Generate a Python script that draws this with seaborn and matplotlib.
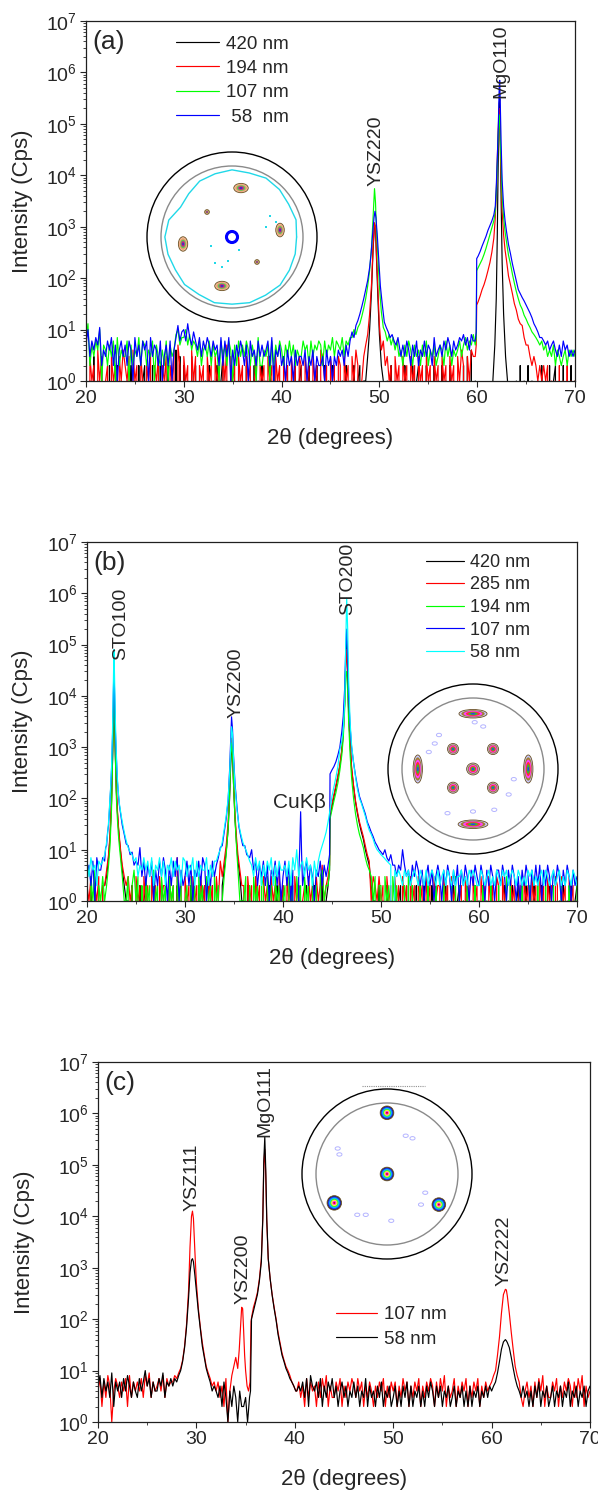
import numpy as np
import pandas as pd
import matplotlib
matplotlib.use("Agg")
import matplotlib.pyplot as plt
from matplotlib.patches import Circle, Ellipse
from matplotlib.ticker import MultipleLocator, LogLocator, NullFormatter
import seaborn as sns

sns.set_style("ticks")
plt.rcParams['font.family'] = ['Liberation Sans', 'DejaVu Sans']
plt.rcParams['mathtext.fontset'] = 'custom'
plt.rcParams['mathtext.rm'] = 'Liberation Sans'
plt.rcParams['mathtext.default'] = 'regular'

# background scans: one hex digit = counts at 2theta = 20.0 + 0.2*i
scan_start = 20.0
scan_step = 0.2

# ---------------- panel (a) ----------------
a420_bg = ("2010301020 1020102010 0102010201 2010201020 1020104030 2010302010 0102010201 "
           "3010201020 1020102010 2010302010 0102010201 2010201020 1020102010 0102010201 "
           "2010201020 1020102010 0102010201 2010201020 1020102010 0102030401 0000000000 "
           "0000000000 1020102010 0102010201 2010201020 1")
a194_bg = ("2031204130 1203120314 2130412031 0213021302 1302140520 3120413021 2031203120 "
           "4150312031 2031201302 1203120312 0312031203 2031203120 4312031203 2031203142 "
           "0000000000 0000002031 2031203120 3120312031 2031203120 3142031430 0000000000 "
           "0000000000 0000000000 0000002010 1020102010 1")
a107_bg = ("6d25364a15 4253617243 3615243726 5243615324 2615348a57 7a58465362 4536253416 "
           "3526415263 5364253172 2435162536 4253635243 3645263546 5263547365 4736570000 "
           "0000000000 0000000000 3425364253 4253624352 3542635243 4635746580 0000000000 "
           "0000000000 0000000000 0000000035 2432342434 3")
a58_bg = ("5a36475b24 3647251463 5264173526 4617354261 3526147c69 a6d7596473 6475364527 "
          "2637142536 4251634263 5346271435 2314231423 3241324132 2314231324 3425364758 "
          "0000000000 0000000000 4353642536 2436354273 4536475364 5768574869 0000000000 "
          "0000000000 0000000000 0000000046 4353645343 4")

a420_ysz220_x = [48.6, 48.8, 49.0, 49.2, 49.35, 49.5, 49.6, 49.7, 49.85, 50.0, 50.2, 50.4, 50.6]
a420_ysz220_y = [1, 3, 10, 60, 350, 1100, 1000, 250, 40, 8, 2, 1, 0]
a420_mgo110_x = [61.4, 61.6, 61.8, 61.95, 62.05, 62.15, 62.25, 62.3, 62.35, 62.45, 62.55, 62.7, 62.9, 63.1, 63.4]
a420_mgo110_y = [0, 1, 5, 40, 600, 20000, 250000, 300000, 60000, 3000, 200, 20, 3, 1, 0]

a194_ysz220_x = [48.2, 48.4, 48.6, 48.8, 49.0, 49.2, 49.35, 49.5, 49.6, 49.7, 49.85, 50.0, 50.2, 50.4, 50.6, 50.8, 51.0]
a194_ysz220_y = [1, 3, 5, 8, 20, 80, 400, 1200, 1000, 300, 60, 12, 4, 6, 2, 3, 1]
a194_mgo110_x = [59.8, 59.9, 59.95, 60.1, 60.3, 60.5, 60.7, 60.9, 61.1, 61.3, 61.5, 61.7, 61.85, 61.95,
                 62.05, 62.15, 62.25, 62.3, 62.35, 62.45, 62.55, 62.7, 62.85, 63.0, 63.2, 63.4, 63.6,
                 63.8, 64.0, 64.2, 64.4, 64.6, 64.8, 65.0, 65.2, 65.4, 65.6, 65.8, 66.0, 66.2, 66.4,
                 66.6, 66.8, 67.0]
a194_mgo110_y = [3, 5, 30, 35, 45, 60, 75, 100, 140, 200, 320, 600, 1500, 4500,
                 20000, 80000, 200000, 150000, 50000, 8000, 2000, 700, 350, 220, 110, 75, 50,
                 32, 24, 16, 13, 12, 7, 5, 5, 3, 2, 3, 2, 1, 2,
                 1, 2, 1]

a107_ysz220_x = [47.2, 47.4, 47.6, 47.8, 48.0, 48.2, 48.4, 48.6, 48.8, 49.0, 49.2, 49.35, 49.5, 49.6,
                 49.7, 49.85, 50.0, 50.2, 50.4, 50.6, 50.8, 51.0, 51.2, 51.4, 51.6, 51.8, 52.0]
a107_ysz220_y = [7, 10, 8, 11, 13, 18, 26, 40, 70, 140, 400, 1500, 5500, 3000,
                 900, 250, 70, 22, 11, 9, 6, 8, 5, 7, 4, 6, 3]
a107_mgo110_x = [59.8, 59.9, 59.95, 60.1, 60.3, 60.5, 60.7, 60.9, 61.1, 61.3, 61.5, 61.7, 61.85, 61.95,
                 62.05, 62.15, 62.25, 62.3, 62.35, 62.45, 62.55, 62.7, 62.85, 63.0, 63.2, 63.4, 63.6,
                 63.8, 64.0, 64.2, 64.4, 64.6, 64.8, 65.0, 65.2, 65.4, 65.6, 65.8, 66.0, 66.2, 66.4,
                 66.6, 66.8, 67.0, 67.2, 67.4]
a107_mgo110_y = [5, 7, 140, 160, 190, 230, 290, 380, 520, 700, 950, 1300, 2000, 4500,
                 15000, 60000, 150000, 120000, 60000, 15000, 4000, 1500, 800, 500, 280, 190, 120,
                 80, 55, 40, 30, 25, 19, 16, 13, 11, 9, 8, 7, 6, 5,
                 6, 4, 5, 3, 4]

a58_ysz220_x = [47.0, 47.2, 47.4, 47.6, 47.8, 48.0, 48.2, 48.4, 48.6, 48.8, 49.0, 49.15, 49.3, 49.45,
                49.55, 49.65, 49.8, 49.95, 50.1, 50.3, 50.5, 50.7, 50.9, 51.1, 51.3, 51.5, 51.7, 51.9, 52.1]
a58_ysz220_y = [6, 9, 7, 12, 15, 20, 28, 40, 60, 90, 160, 300, 700, 1500,
                2000, 1500, 600, 200, 70, 30, 14, 11, 9, 7, 8, 6, 5, 7, 4]
a58_mgo110_x = [59.8, 59.9, 59.95, 60.1, 60.3, 60.5, 60.7, 60.9, 61.1, 61.3, 61.5, 61.7, 61.85, 61.95,
                62.05, 62.15, 62.25, 62.3, 62.35, 62.45, 62.55, 62.7, 62.85, 63.0, 63.2, 63.4, 63.6,
                63.8, 64.0, 64.2, 64.4, 64.6, 64.8, 65.0, 65.2, 65.4, 65.6, 65.8, 66.0, 66.2, 66.4,
                66.6, 66.8, 67.0, 67.2, 67.4, 67.6]
a58_mgo110_y = [6, 9, 240, 270, 330, 420, 520, 650, 850, 1050, 1300, 1700, 2500, 6000,
                20000, 80000, 500000, 700000, 300000, 40000, 8000, 2500, 1300, 800, 450, 300, 190,
                130, 90, 60, 50, 42, 36, 30, 25, 21, 17, 13, 11, 9, 7,
                7, 6, 5, 6, 4, 5]

# ---------------- panel (b) ----------------
b420_bg = ("1020301020 0000000000 0102010201 2010201020 1020102010 0102010201 2010201000 "
           "0000000000 1020102010 0102010201 2010201020 1020102010 3010200000 0000000000 "
           "0000000102 0102010201 2010201020 1020102010 0102010201 2010201020 1020102010 "
           "0102010201 2010201020 1020102010 0102010201 2")
b285_bg = ("2130213021 0000000000 0312031203 1203120312 2031207130 3120312031 2031203160 "
           "0000000000 2031203120 3120312031 2031203120 1203120312 5120300000 0000000000 "
           "0000000213 1203120312 0312031203 1203120312 2031203120 1203120312 0312031203 "
           "2031203120 1203120312 0312031203 2031203120 1")
b194_bg = ("2031402130 0000000000 1302413020 3120412031 2031203120 1203120312 0312031203 "
           "0000000002 1302031203 2031203120 1203120312 0312031203 4120300000 0000000000 "
           "0000000302 2031203120 1020302010 2010201020 1020102030 2010201020 1020102010 "
           "2010302010 1020102010 2010201020 1020102010 2")
b107_bg = ("3526174253 0000000000 0000005b36 2536142637 4152637142 3625143627 5142637100 "
           "0000000000 0000a46253 6251436251 3625140000 0462531436 2536000000 0000000000 "
           "0000000000 0000000535 4a53425364 2413524135 3142531425 1425314253 2531425314 "
           "4253142531 3142531425 2514253142 5314253142 3")
b58_bg = ("6374526374 0000000000 0000063547 4637254736 2547364527 6354726354 4725364700 "
          "0000000000 0000537462 5364725364 4536274a35 6374526300 0000000000 0000000000 "
          "0000000000 0000000434 3243423432 4324234324 2342432423 3423243432 2432342324 "
          "3243423432 4323243423 2342432342 3423243243 2")

b_sto100_x = [21.4, 21.6, 21.8, 21.9, 22.0, 22.1, 22.2, 22.3, 22.4, 22.5, 22.6, 22.7, 22.75, 22.8,
              22.9, 23.0, 23.1, 23.2, 23.3, 23.4, 23.5, 23.6, 23.8, 24.0, 24.2, 24.4, 24.6, 24.8, 25.0]
b58_sto100_y = [5, 6, 8, 10, 14, 20, 35, 70, 150, 400, 2000, 20000, 80000, 30000,
                3000, 700, 250, 130, 80, 60, 45, 35, 22, 15, 11, 9, 8, 6, 7]
b107_sto100_y = [4, 7, 6, 11, 12, 22, 30, 65, 140, 350, 1500, 12000, 40000, 15000,
                 2000, 600, 220, 120, 75, 55, 40, 30, 20, 13, 12, 8, 9, 5, 6]
b_sto100n_x = [21.8, 22.0, 22.2, 22.35, 22.5, 22.6, 22.7, 22.75, 22.8, 22.9, 23.0, 23.1, 23.2, 23.3,
               23.45, 23.6, 23.8, 24.0]
b420_sto100_y = [2, 3, 7, 18, 80, 500, 4000, 6000, 4000, 600, 130, 55, 28, 16, 8, 4, 2, 1]
b285_sto100_y = [2, 4, 8, 20, 90, 600, 5000, 9000, 5000, 700, 150, 60, 30, 18, 9, 5, 3, 2]
b194_sto100_y = [1, 2, 5, 12, 60, 500, 5000, 12000, 6000, 600, 100, 40, 20, 12, 6, 3, 1, 1]

b_ysz200_x = [33.2, 33.4, 33.6, 33.8, 34.0, 34.2, 34.4, 34.55, 34.65, 34.75, 34.85, 34.95, 35.1, 35.3,
              35.5, 35.7, 35.9, 36.1, 36.3, 36.6]
b58_ysz200_y = [6, 8, 10, 14, 25, 45, 100, 300, 900, 2500, 1800, 600, 180, 60, 30, 20, 14, 11, 9, 6]
b107_ysz200_y = [5, 7, 11, 12, 22, 40, 90, 350, 1200, 3900, 2200, 700, 200, 70, 28, 18, 12, 12, 8, 7]
b_ysz200n_x = [33.8, 34.0, 34.2, 34.4, 34.55, 34.65, 34.75, 34.85, 34.95, 35.1, 35.25, 35.4, 35.6, 35.8]
b420_ysz200_y = [2, 4, 9, 25, 100, 400, 1000, 700, 200, 40, 14, 6, 3, 1]
b285_ysz200_y = [3, 6, 12, 35, 150, 600, 1500, 900, 250, 50, 18, 8, 4, 2]
b194_ysz200_y = [1, 3, 8, 25, 120, 500, 1200, 800, 200, 40, 12, 4, 1, 1]

b107_cukb_x = [41.6, 41.7, 41.8, 41.9, 42.0]
b107_cukb_y = [3, 10, 55, 8, 2]

b58_sto200_x = [43.6, 43.8, 44.0, 44.2, 44.4, 44.6, 44.8, 45.0, 45.2, 45.4, 45.6, 45.8, 46.0, 46.15,
                46.3, 46.4, 46.5, 46.6, 46.7, 46.85, 47.0, 47.2, 47.4, 47.6, 47.8, 48.0, 48.2, 48.4,
                48.6, 48.8, 49.0, 49.2, 49.4, 49.6, 49.8, 50.0, 50.3, 50.6, 51.0]
b58_sto200_y = [6, 9, 12, 16, 22, 35, 60, 110, 170, 260, 420, 900, 1300, 2200,
                8000, 100000, 800000, 200000, 20000, 3000, 1100, 500, 260, 150, 100, 80, 60, 45,
                32, 24, 20, 16, 12, 10, 9, 8, 7, 6, 5]
b107_sto200_x = [44.6, 44.75, 44.8, 45.0, 45.2, 45.4, 45.6, 45.8, 46.0, 46.15, 46.3, 46.4, 46.5, 46.6,
                 46.7, 46.85, 47.0, 47.2, 47.4, 47.6, 47.8, 48.0, 48.2, 48.4, 48.6, 48.8, 49.0, 49.2,
                 49.4, 49.6, 49.8, 50.0, 50.2, 50.4, 50.6, 50.8, 51.0, 51.2]
b107_sto200_y = [5, 8, 300, 360, 420, 520, 700, 1000, 2000, 4000, 15000, 80000, 200000, 60000,
                 10000, 2500, 1000, 500, 280, 170, 110, 85, 65, 50, 35, 28, 22, 18,
                 14, 12, 10, 9, 8, 10, 7, 6, 8, 5]
b_sto200n_x = [44.6, 44.75, 44.8, 45.0, 45.2, 45.4, 45.6, 45.8, 46.0, 46.15, 46.3, 46.4, 46.5, 46.6,
               46.7, 46.85, 47.0, 47.2, 47.4, 47.6, 47.8, 48.0, 48.2, 48.4, 48.6, 48.8, 49.0, 49.2]
b420_sto200_y = [2, 4, 45, 70, 110, 170, 260, 430, 850, 1900, 8000, 50000, 120000, 30000,
                 5000, 1100, 380, 170, 85, 50, 32, 22, 16, 10, 7, 5, 2, 1]
b285_sto200_y = [3, 5, 50, 80, 120, 180, 280, 450, 900, 2000, 8000, 40000, 80000, 25000,
                 5000, 1200, 400, 180, 90, 55, 35, 25, 18, 12, 8, 6, 1, 3]
b194_sto200_y = [2, 4, 40, 60, 90, 130, 200, 350, 700, 1500, 6000, 25000, 30000, 12000,
                 3000, 700, 250, 100, 50, 30, 20, 15, 11, 7, 5, 4, 3, 1]

# ---------------- panel (c) ----------------
c107_bg = ("4726385147 5364728364 6473859364 5748375600 0000000000 0000000000 4635271400 "
           "0000000000 0000000000 0000000000 0463527364 5263748253 3647253647 5374625364 "
           "2536472536 4625374625 3647253647 5263748253 4725364725 3647253640 0000000000 "
           "0000000463 5263748253 3647253647 5263748253 4")
c58_bg = ("5837463926 4637485364 3746a57364 4759365700 0000000000 0000000000 4352631425 "
          "3142231100 0000000000 0000000000 0454637285 4637253647 3524635243 6352437253 "
          "4253624352 3524253625 2435242536 4253524352 3524352425 2435243535 0000000000 "
          "0000005342 4253624352 3524352436 2435243524 5")

c_ysz111_x = [27.6, 27.8, 28.0, 28.2, 28.4, 28.6, 28.8, 29.0, 29.2, 29.35, 29.5, 29.6, 29.7, 29.85,
              30.0, 30.2, 30.4, 30.6, 30.8, 31.0, 31.2, 31.4, 31.6, 31.8]
c107_ysz111_y = [6, 8, 7, 9, 11, 16, 30, 80, 350, 2500, 10000, 12600, 9000, 2000,
                 500, 160, 70, 35, 20, 12, 9, 7, 5, 6]
c58_ysz111_y = [5, 7, 6, 8, 10, 15, 28, 70, 250, 800, 1400, 1500, 1300, 700,
                350, 140, 65, 30, 18, 11, 8, 6, 4, 5]

c107_mgo111_x = [33.6, 33.8, 34.0, 34.2, 34.35, 34.5, 34.6, 34.7, 34.8, 34.9, 35.0, 35.15, 35.3, 35.45,
                 35.55, 35.65, 35.8, 36.0, 36.2, 36.4, 36.6, 36.75, 36.85, 36.95, 37.05, 37.15, 37.3,
                 37.5, 37.7, 37.9, 38.1, 38.3, 38.5, 38.7, 38.9, 39.1, 39.3, 39.5, 39.7, 39.9, 40.1]
c107_mgo111_y = [8, 12, 18, 11, 25, 80, 170, 160, 60, 20, 10, 5, 4, 6,
                 90, 120, 170, 230, 330, 600, 1500, 10000, 100000, 200000, 60000, 8000, 1500,
                 600, 300, 170, 100, 55, 35, 22, 16, 12, 10, 8, 6, 5, 4]
c58_mgo111_x = [35.4, 35.5, 35.6, 35.7, 35.85, 36.0, 36.2, 36.4, 36.6, 36.75, 36.85, 36.95, 37.05,
                37.15, 37.3, 37.5, 37.7, 37.9, 38.1, 38.3, 38.5, 38.7, 38.9, 39.1, 39.3, 39.5, 39.7,
                39.9, 40.1]
c58_mgo111_y = [3, 4, 100, 120, 160, 210, 300, 550, 1300, 9000, 120000, 350000, 80000,
                9000, 1500, 600, 290, 160, 95, 50, 32, 20, 15, 11, 9, 7, 6,
                5, 4]

c107_ysz222_x = [59.8, 60.0, 60.2, 60.4, 60.6, 60.8, 61.0, 61.2, 61.4, 61.5, 61.6, 61.8, 62.0, 62.2,
                 62.4, 62.6, 62.8, 63.0, 63.2]
c107_ysz222_y = [5, 6, 8, 10, 20, 45, 130, 300, 380, 370, 280, 130, 55, 25, 12, 8, 6, 3, 2]
c58_ysz222_x = [60.0, 60.2, 60.4, 60.6, 60.8, 61.0, 61.2, 61.4, 61.5, 61.6, 61.8, 62.0, 62.2, 62.4,
                62.6, 62.8, 63.0]
c58_ysz222_y = [4, 5, 6, 9, 15, 26, 36, 40, 38, 35, 28, 18, 11, 7, 5, 4, 3]

# ---------------- pole figure insets (units of outer radius) ----------------
a_spot_x = [0.106, -0.576, 0.565, -0.118, -0.294, 0.294]
a_spot_y = [0.576, -0.082, 0.082, -0.576, 0.294, -0.294]
a_spot_w = [0.17, 0.11, 0.10, 0.17, 0.055, 0.055]
a_spot_h = [0.11, 0.17, 0.16, 0.11, 0.055, 0.055]
a_cyan_r = [0.76, 0.78, 0.77, 0.79, 0.80, 0.78, 0.79, 0.77, 0.76, 0.72, 0.70, 0.77,
            0.79, 0.78, 0.77, 0.79, 0.78, 0.80, 0.79, 0.80, 0.79, 0.80, 0.78, 0.77]
a_scrap_x = [0.45, 0.52, 0.40, -0.20, -0.12, -0.05, 0.08, -0.25]
a_scrap_y = [0.25, 0.18, 0.12, -0.30, -0.35, -0.28, -0.15, -0.10]

b_spot_x = [0.0, 0.0, -0.65, 0.65, 0.0, -0.235, 0.235, -0.235, 0.235]
b_spot_y = [0.65, -0.65, 0.0, 0.0, 0.0, 0.235, 0.235, -0.22, -0.22]
b_spot_w = [0.33, 0.35, 0.11, 0.11, 0.15, 0.13, 0.13, 0.13, 0.13]
b_spot_h = [0.10, 0.10, 0.33, 0.33, 0.14, 0.13, 0.13, 0.13, 0.13]
b_scrap_x = [-0.52, -0.45, -0.40, 0.02, 0.12, 0.48, 0.42, -0.30, 0.00, 0.25]
b_scrap_y = [0.20, 0.30, 0.40, 0.55, 0.50, -0.12, -0.30, -0.52, -0.50, -0.48]

c_spot_x = [0.0, 0.0, -0.62, 0.61]
c_spot_y = [0.72, 0.0, -0.34, -0.36]
c_spot_d = [0.16, 0.16, 0.17, 0.16]
c_scrap_x = [-0.58, -0.56, 0.22, 0.30, 0.05, -0.35, 0.45, 0.40, -0.25]
c_scrap_y = [0.30, 0.23, 0.45, 0.42, -0.55, -0.48, -0.22, -0.36, -0.48]


def build(bg, *peaks):
    counts = np.array([int(c, 16) for c in bg.replace(" ", "")], dtype=float)
    x = scan_start + scan_step * np.arange(len(counts))
    keep = np.ones(len(x), bool)
    for px, py in peaks:
        keep &= ~((x >= min(px) - 1e-6) & (x <= max(px) + 1e-6))
    xs = np.concatenate([x[keep]] + [np.asarray(px, float) for px, py in peaks])
    ys = np.concatenate([counts[keep]] + [np.asarray(py, float) for px, py in peaks])
    order = np.argsort(xs)
    return pd.DataFrame({"two_theta": xs[order], "cps": ys[order]})


W, H = 598, 1495
fig = plt.figure(figsize=(W / 100, H / 100), dpi=100)


def px_rect(left, top, right, bottom):
    return [left / W, 1 - bottom / H, (right - left) / W, (bottom - top) / H]


def style_axis(ax, letter):
    ax.set_yscale('log')
    ax.set_xlim(20, 70)
    ax.set_ylim(1, 1e7)
    ax.xaxis.set_major_locator(MultipleLocator(10))
    ax.xaxis.set_minor_locator(MultipleLocator(5))
    ax.yaxis.set_major_locator(LogLocator(base=10, numticks=10))
    ax.yaxis.set_minor_locator(LogLocator(base=10, subs=np.arange(2, 10), numticks=10))
    ax.yaxis.set_minor_formatter(NullFormatter())
    ax.tick_params(which='major', direction='out', length=4.5, width=0.8, labelsize=14,
                   top=False, right=False, pad=2)
    ax.tick_params(which='minor', direction='out', length=2.5, width=0.6, top=False, right=False)
    for s in ax.spines.values():
        s.set_linewidth(0.9)
        s.set_color('#202020')
        s.set_visible(True)
    ax.set_xlabel("2θ (degrees)", fontsize=16)
    ax.set_ylabel("Intensity (Cps)", fontsize=16)
    ax.text(0.013, 0.942, letter, transform=ax.transAxes, fontsize=19, va='center', ha='left')


def draw(ax, df, color, label):
    sns.lineplot(data=df, x="two_theta", y="cps", color=color, lw=0.85, label=label,
                 estimator=None, sort=False, ax=ax)


def peak_label(ax, text, x, logy):
    ax.text(x, 10 ** logy, text, rotation=90, ha='center', va='bottom', fontsize=14)


def legend(ax, anchor, hl, ls, fs):
    ax.legend(loc='upper left', bbox_to_anchor=anchor, frameon=False, borderpad=0,
              borderaxespad=0, handlelength=hl, handletextpad=0.35, labelspacing=ls, fontsize=fs)


def pole_figure(cx, cy, ring_colors, spot_x, spot_y, spot_w, spot_h, scrap_x, scrap_y):
    pax = fig.add_axes([(cx - 90) / W, 1 - (cy + 90) / H, 180 / W, 180 / H])
    pax.set_xlim(-90 / 85, 90 / 85)
    pax.set_ylim(-90 / 85, 90 / 85)
    pax.axis('off')
    pax.add_patch(Circle((0, 0), 1.0, fill=False, ec='black', lw=1.0))
    pax.add_patch(Circle((0, 0), 71 / 85, fill=False, ec='#8a8a8a', lw=1.0))
    for sx, sy in zip(scrap_x, scrap_y):
        pax.add_patch(Ellipse((sx, sy), 0.06, 0.04, fill=False, ec='#b4b4ff', lw=0.7))
    n = len(ring_colors)
    for sx, sy, sw, sh in zip(spot_x, spot_y, spot_w, spot_h):
        for k, col in enumerate(ring_colors):
            f = 1 - k / n
            pax.add_patch(Ellipse((sx, sy), sw * f, sh * f, fc=col, ec='none'))
        pax.add_patch(Ellipse((sx, sy), sw, sh, fill=False, ec='#6a5020', lw=0.6))
    return pax


# ---------------- panel (a) ----------------
ax_a = fig.add_axes(px_rect(86, 21, 575, 381))
draw(ax_a, build(a420_bg, (a420_ysz220_x, a420_ysz220_y), (a420_mgo110_x, a420_mgo110_y)), 'black', '420 nm')
draw(ax_a, build(a194_bg, (a194_ysz220_x, a194_ysz220_y), (a194_mgo110_x, a194_mgo110_y)), '#ff0000', '194 nm')
draw(ax_a, build(a107_bg, (a107_ysz220_x, a107_ysz220_y), (a107_mgo110_x, a107_mgo110_y)), '#00ff00', '107 nm')
draw(ax_a, build(a58_bg, (a58_ysz220_x, a58_ysz220_y), (a58_mgo110_x, a58_mgo110_y)), '#0000ff', ' 58  nm')
style_axis(ax_a, "(a)")
peak_label(ax_a, "YSZ220", 49.65, 3.8)
peak_label(ax_a, "MgO110", 62.45, 5.5)
legend(ax_a, (0.184, 0.960), 2.3, 0.39, 13.5)

# ---------------- panel (b) ----------------
ax_b = fig.add_axes(px_rect(87, 542, 577, 901))
draw(ax_b, build(b420_bg, (b_sto100n_x, b420_sto100_y), (b_ysz200n_x, b420_ysz200_y),
                 (b_sto200n_x, b420_sto200_y)), 'black', '420 nm')
draw(ax_b, build(b285_bg, (b_sto100n_x, b285_sto100_y), (b_ysz200n_x, b285_ysz200_y),
                 (b_sto200n_x, b285_sto200_y)), '#ff0000', '285 nm')
draw(ax_b, build(b194_bg, (b_sto100n_x, b194_sto100_y), (b_ysz200n_x, b194_ysz200_y),
                 (b_sto200n_x, b194_sto200_y)), '#00ff00', '194 nm')
draw(ax_b, build(b107_bg, (b_sto100_x, b107_sto100_y), (b_ysz200_x, b107_ysz200_y),
                 (b107_cukb_x, b107_cukb_y), (b107_sto200_x, b107_sto200_y)), '#0000ff', '107 nm')
draw(ax_b, build(b58_bg, (b_sto100_x, b58_sto100_y), (b_ysz200_x, b58_ysz200_y),
                 (b58_sto200_x, b58_sto200_y)), '#00ffff', '58 nm')
style_axis(ax_b, "(b)")
peak_label(ax_b, "STO100", 23.4, 4.69)
peak_label(ax_b, "YSZ200", 35.2, 3.56)
peak_label(ax_b, "STO200", 46.6, 5.57)
ax_b.text(41.7, 10 ** 1.92, "CuKβ", ha='center', va='center', fontsize=15)
legend(ax_b, (0.692, 0.967), 2.1, 0.31, 13)

# ---------------- panel (c) ----------------
ax_c = fig.add_axes(px_rect(98, 1062, 590, 1422))
draw(ax_c, build(c107_bg, (c_ysz111_x, c107_ysz111_y), (c107_mgo111_x, c107_mgo111_y),
                 (c107_ysz222_x, c107_ysz222_y)), '#ff0000', '107 nm')
draw(ax_c, build(c58_bg, (c_ysz111_x, c58_ysz111_y), (c58_mgo111_x, c58_mgo111_y),
                 (c58_ysz222_x, c58_ysz222_y)), 'black', '58 nm')
style_axis(ax_c, "(c)")
peak_label(ax_c, "YSZ111", 29.6, 4.1)
peak_label(ax_c, "YSZ200", 34.7, 2.3)
peak_label(ax_c, "MgO111", 36.95, 5.54)
peak_label(ax_c, "YSZ222", 61.25, 2.64)
legend(ax_c, (0.484, 0.322), 2.2, 0.39, 13.5)

for ax, lx in [(ax_a, -0.108), (ax_b, -0.110), (ax_c, -0.128)]:
    ax.yaxis.set_label_coords(lx, 0.5)
    ax.xaxis.set_label_coords(0.5, -0.13)

# ---------------- insets ----------------
pa = pole_figure(232, 237, ['#f3c2a4', '#f0a070', '#5cc85c', '#d02080', '#3030d0'],
                 a_spot_x, a_spot_y, a_spot_w, a_spot_h, [], [])
theta = np.deg2rad(np.arange(0, 360, 15))
rr = np.array(a_cyan_r + a_cyan_r[:1])
tt = np.concatenate([theta, theta[:1]])
pa.plot(rr * np.cos(tt), rr * np.sin(tt), color='#20d8e8', lw=1.0)
pa.scatter(a_scrap_x, a_scrap_y, s=3, color='#20d8e8', marker='s', lw=0)
pa.add_patch(Circle((0, 0), 0.065, fill=False, ec='#0000ff', lw=2.2))

pole_figure(473, 769, ['#c8c8ff', '#a08030', '#ff40ff', '#ff3030', '#30c030', '#3030ff'],
            b_spot_x, b_spot_y, b_spot_w, b_spot_h, b_scrap_x, b_scrap_y)

pc = pole_figure(387, 1174, ['#202060', '#2040ff', '#00c8ff', '#40e040', '#ffff30', '#ff30ff', '#e00000'],
                 c_spot_x, c_spot_y, c_spot_d, c_spot_d, c_scrap_x, c_scrap_y)
pc.plot([-0.29, 0.45], [1.03, 1.03], color='#909090', lw=0.8, ls=(0, (1, 1)))

fig.savefig("out.png", dpi=100)
